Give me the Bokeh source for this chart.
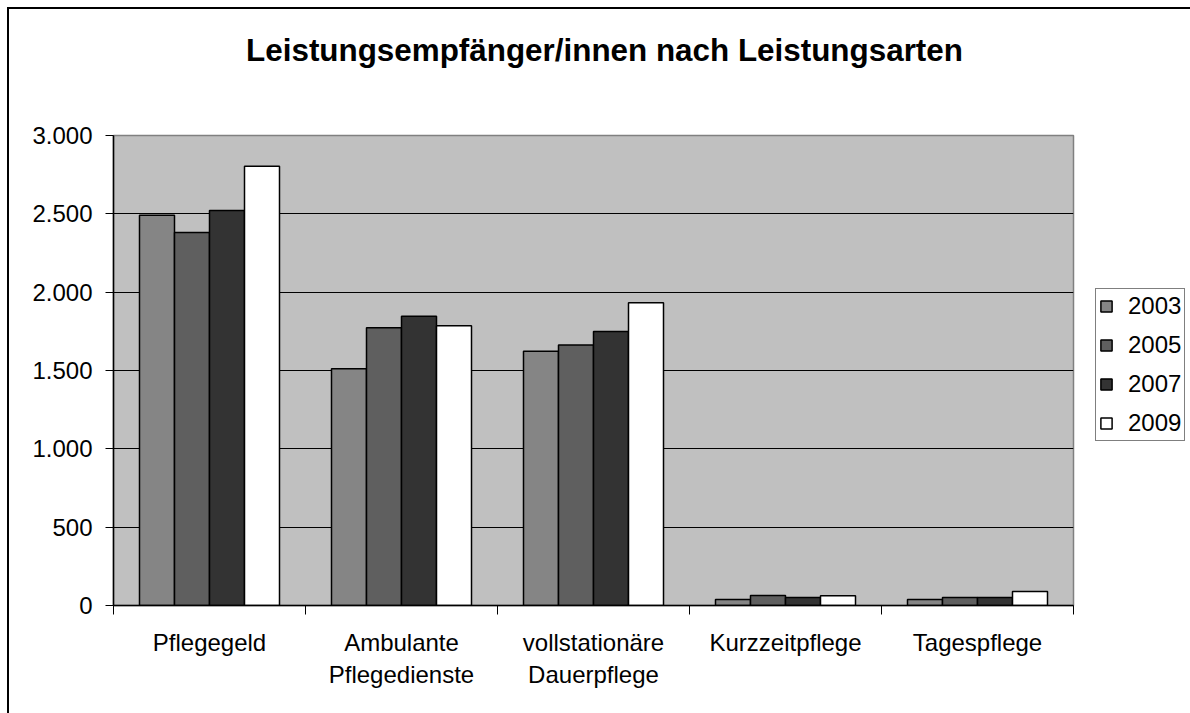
from bokeh.plotting import figure
from bokeh.models import (FactorRange, Range1d, LinearAxis, FixedTicker, Legend,
                          LegendItem, ColumnDataSource, Grid, Label)
from bokeh.transform import dodge
from bokeh.embed import file_html
from bokeh.resources import INLINE

# ---- data ----
categories = ["Pflegegeld", "Ambulante\nPflegedienste", "vollstationäre\nDauerpflege",
              "Kurzzeitpflege", "Tagespflege"]
years = ["2003", "2005", "2007", "2009"]
v2003 = [2491, 1511, 1623, 38, 38]
v2005 = [2381, 1773, 1662, 64, 51]
v2007 = [2521, 1847, 1749, 51, 51]
v2009 = [2804, 1785, 1932, 62, 89]
y_ticks = [0, 500, 1000, 1500, 2000, 2500, 3000]
y_tick_labels = ["0", "500", "1.000", "1.500", "2.000", "2.500", "3.000"]
title_text = "Leistungsempfänger/innen nach Leistungsarten"

colors = ["#858585", "#5f5f5f", "#333333", "#ffffff"]
FONT = "Liberation Sans"

source = ColumnDataSource(data=dict(cat=categories, y2003=v2003, y2005=v2005,
                                    y2007=v2007, y2009=v2009))

p = figure(frame_width=960, frame_height=470, x_range=FactorRange(*categories),
           y_range=Range1d(0, 3000), output_backend="svg", toolbar_location=None,
           x_axis_location=None, y_axis_location=None,
           min_border_left=104, min_border_top=126, min_border_right=100,
           min_border_bottom=108, title=None)
p.background_fill_color = "#c0c0c0"
p.border_fill_color = "white"
p.outline_line_color = "#808080"
p.outline_line_width = 1.5
p.styles = {"border-left": "2px solid black", "border-top": "2px solid black",
            "margin-left": "7px", "margin-top": "7px"}

bw = 0.1823
offsets = [-1.5 * bw, -0.5 * bw, 0.5 * bw, 1.5 * bw]
renderers = []
for yr, col, off in zip(years, colors, offsets):
    r = p.vbar(x=dodge("cat", off, range=p.x_range), top="y" + yr, width=bw,
               source=source, fill_color=col, line_color="black", line_width=1.5)
    renderers.append(r)

# y axis
yaxis = LinearAxis(ticker=FixedTicker(ticks=y_ticks, minor_ticks=[]))
yaxis.major_label_overrides = {t: l for t, l in zip(y_ticks, y_tick_labels)}
yaxis.major_label_text_font = FONT
yaxis.major_label_text_font_size = "24px"
yaxis.major_label_text_color = "black"
yaxis.major_tick_out = 8
yaxis.major_tick_in = 0
yaxis.major_tick_line_color = "black"
yaxis.axis_line_color = "black"
yaxis.axis_line_width = 1.5
yaxis.major_label_standoff = 13
yaxis.minor_tick_line_color = None
p.add_layout(yaxis, "left")

# x axis: labels at category centres, tick marks at category boundaries
centers = [i + 0.5 for i in range(len(categories))]
bounds = [float(i) for i in range(len(categories) + 1)]
xaxis = LinearAxis(ticker=FixedTicker(ticks=centers, minor_ticks=bounds))
xaxis.major_label_overrides = {c: l for c, l in zip(centers, categories)}
xaxis.major_label_text_font = FONT
xaxis.major_label_text_font_size = "24px"
xaxis.major_label_text_color = "black"
xaxis.major_tick_line_color = None
xaxis.minor_tick_out = 9
xaxis.minor_tick_in = 0
xaxis.minor_tick_line_color = "black"
xaxis.axis_line_color = "black"
xaxis.axis_line_width = 1.5
xaxis.major_label_standoff = 14
p.add_layout(xaxis, "below")

p.grid.grid_line_color = None
g = Grid(dimension=1, ticker=FixedTicker(ticks=y_ticks[1:]), grid_line_color="black",
         grid_line_width=1)
p.add_layout(g)

legend = Legend(items=[LegendItem(label=yr, renderers=[r]) for yr, r in zip(years, renderers)],
                location=(22, 164))
legend.label_text_font = FONT
legend.label_text_font_size = "24px"
legend.label_text_color = "black"
legend.glyph_width = 14
legend.glyph_height = 14
legend.label_height = 24
legend.spacing = 11
legend.padding = 3
legend.margin = 0
legend.label_standoff = 15
legend.border_line_color = "black"
legend.border_line_width = 1
legend.background_fill_color = "white"
legend.background_fill_alpha = 1
p.add_layout(legend, "right")

title = Label(x=491, y=85, x_units="screen", y_units="screen", text=title_text,
              text_font=FONT, text_font_size="31.4px", text_font_style="bold",
              text_align="center", text_baseline="alphabetic", text_color="black")
p.add_layout(title, "above")

open("out.html", "w").write(file_html(p, INLINE))
